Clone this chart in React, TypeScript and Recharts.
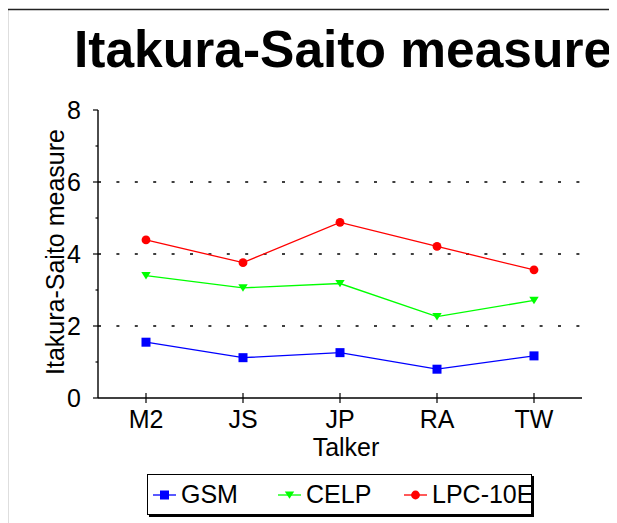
// Itakura-Saito measure per talker for three speech codecs.
import { Line, LineChart, ReferenceLine, XAxis, YAxis } from "recharts";

const TALKERS = ["M2", "JS", "JP", "RA", "TW"];
const GSM = [1.55, 1.12, 1.26, 0.8, 1.17];
const CELP = [3.4, 3.06, 3.18, 2.26, 2.71];
const LPC10E = [4.39, 3.76, 4.88, 4.21, 3.56];

const Y_MAJOR = [0, 2, 4, 6, 8];
const Y_MINOR = [1, 3, 5, 7];
const GRID_VALUES = [2, 4, 6];

const FONT = '"Liberation Sans", Arial, Helvetica, sans-serif';

const SERIES = [
  { key: "GSM", values: GSM, color: "#0000ff", shape: "square" },
  { key: "CELP", values: CELP, color: "#00ff00", shape: "triangle" },
  { key: "LPC-10E", values: LPC10E, color: "#ff0000", shape: "circle" },
];

const LEGEND_LEFT = [5, 130, 256];

const data = TALKERS.map((talker, i) => {
  const row: Record<string, string | number> = { talker };
  SERIES.forEach((s) => (row[s.key] = s.values[i]));
  return row;
});

function Marker({ cx, cy, shape, color }: { cx: number; cy: number; shape: string; color: string }) {
  if (shape === "square") {
    return <rect x={cx - 4.5} y={cy - 4.5} width={9} height={9} fill={color} />;
  }
  if (shape === "triangle") {
    return (
      <path
        d={`M${cx - 4.7},${cy - 3.6}L${cx + 4.7},${cy - 3.6}L${cx},${cy + 3.8}Z`}
        fill={color}
      />
    );
  }
  return <circle cx={cx} cy={cy} r={4.4} fill={color} />;
}

function YTick(props: any) {
  const { x, y, payload } = props;
  const major = Y_MAJOR.includes(payload.value);
  return (
    <g>
      <line x1={x + (major ? 12 : 14.5)} x2={x + 17} y1={y} y2={y} stroke="#000" strokeWidth={1.2} />
      {major && (
        <text x={x} y={y} dy="0.36em" textAnchor="end" fontFamily={FONT} fontSize={25} fill="#000">
          {payload.value}
        </text>
      )}
    </g>
  );
}

function XTick(props: any) {
  const { x, y, payload } = props;
  return (
    <g>
      <line x1={x} x2={x} y1={y - 17} y2={y - 7} stroke="#000" strokeWidth={1.2} />
      <text x={x} y={y} dy="0.71em" textAnchor="middle" fontFamily={FONT} fontSize={25} fill="#000">
        {payload.value}
      </text>
    </g>
  );
}

function XTitle({ viewBox }: any) {
  return (
    <text
      x={viewBox.x + viewBox.width / 2 + 6}
      y={viewBox.y + 58}
      textAnchor="middle"
      fontFamily={FONT}
      fontSize={25}
      fill="#000"
    >
      Talker
    </text>
  );
}

function YTitle({ viewBox }: any) {
  const x = viewBox.x + 26;
  const y = viewBox.y + viewBox.height / 2 - 2;
  return (
    <text
      x={x}
      y={y}
      transform={`rotate(-90 ${x} ${y})`}
      textAnchor="middle"
      fontFamily={FONT}
      fontSize={25}
      fill="#000"
    >
      Itakura-Saito measure
    </text>
  );
}

function LegendIcon({ shape, color }: { shape: string; color: string }) {
  return (
    <svg width={23} height={14} style={{ display: "block" }}>
      <line x1={0} x2={23} y1={7} y2={7} stroke={color} strokeWidth={1.3} />
      <Marker cx={11.5} cy={7} shape={shape} color={color} />
    </svg>
  );
}

const AXIS_LINE = { stroke: "#000", strokeWidth: 1.4 };

export default function App() {
  return (
    <div
      style={{
        position: "relative",
        width: 617,
        height: 523,
        margin: "-8px 0 0 -8px",
        overflow: "hidden",
        background: "#fff",
        fontFamily: FONT,
      }}
    >
      <svg width={617} height={523} style={{ position: "absolute", left: 0, top: 0 }}>
        <line x1={7.5} x2={7.5} y1={9} y2={523} stroke="#222" strokeWidth={1.3} />
        <line x1={7} x2={617} y1={9.5} y2={9.5} stroke="#222" strokeWidth={1.3} />
        <text x={74} y={67} fontFamily={FONT} fontWeight="bold" fontSize={51.5} fill="#000">
          Itakura-Saito measure
        </text>
      </svg>
      <div style={{ position: "absolute", left: 0, top: 0 }}>
        <LineChart
          width={617}
          height={523}
          data={data}
          margin={{ top: 110, right: 35, bottom: 65, left: 38 }}
        >
          {GRID_VALUES.map((v) => (
            <ReferenceLine
              key={v}
              y={v}
              stroke="#000"
              strokeWidth={1.3}
              strokeDasharray="3 15.4"
            />
          ))}
          <XAxis
            dataKey="talker"
            height={60}
            padding={{ left: 48, right: 48 }}
            stroke="#000"
            axisLine={AXIS_LINE}
            tickLine={false}
            tickSize={0}
            tickMargin={12}
            tick={<XTick />}
            interval={0}
            label={<XTitle />}
          />
          <XAxis
            xAxisId="top"
            dataKey="talker"
            orientation="top"
            height={0}
            stroke="#000"
            axisLine={AXIS_LINE}
            tick={false}
            tickLine={false}
          />
          <YAxis
            width={60}
            domain={[0, 8]}
            ticks={[...Y_MAJOR, ...Y_MINOR].sort((a, b) => a - b)}
            interval={0}
            stroke="#000"
            axisLine={AXIS_LINE}
            tickLine={false}
            tickSize={0}
            tickMargin={17}
            tick={<YTick />}
            label={<YTitle />}
          />
          <YAxis
            yAxisId="right"
            orientation="right"
            width={0}
            domain={[0, 8]}
            stroke="#000"
            axisLine={AXIS_LINE}
            tick={false}
            tickLine={false}
          />
          {SERIES.map((s) => (
            <Line
              key={s.key}
              dataKey={s.key}
              type="linear"
              stroke={s.color}
              strokeWidth={1.3}
              isAnimationActive={false}
              dot={(p: any) => (
                <Marker key={`${s.key}-${p.index}`} cx={p.cx} cy={p.cy} shape={s.shape} color={s.color} />
              )}
              activeDot={false}
            />
          ))}
        </LineChart>
      </div>
      <div
        style={{
          position: "absolute",
          left: 147,
          top: 474,
          width: 385,
          height: 41,
          boxSizing: "border-box",
          border: "1.3px solid #000",
          boxShadow: "2px 2px 0 #000",
          background: "#fff",
        }}
      >
        {SERIES.map((s, i) => (
          <div
            key={s.key}
            style={{
              position: "absolute",
              left: LEGEND_LEFT[i],
              top: 0,
              height: "100%",
              display: "flex",
              alignItems: "center",
              whiteSpace: "nowrap",
            }}
          >
            <LegendIcon shape={s.shape} color={s.color} />
            <span style={{ marginLeft: 5, fontSize: 25, color: "#000" }}>{s.key}</span>
          </div>
        ))}
      </div>
    </div>
  );
}
